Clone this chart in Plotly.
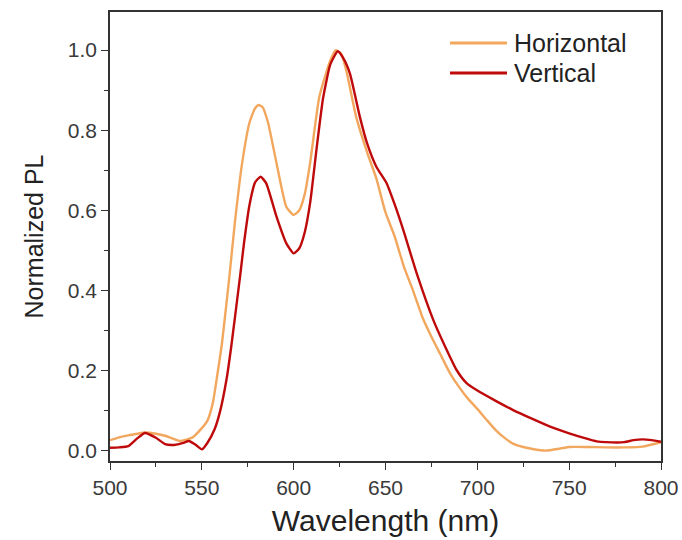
import plotly.graph_objects as go

# Horizontal polarization PL
h_wl = [500, 505, 510, 515, 519, 525, 530, 538, 545, 550, 553, 556, 558, 561, 565, 568, 572, 576, 579, 581, 583, 586, 590.7, 596, 600, 603, 606, 609, 614, 620, 623, 626, 629, 634, 640, 645, 650, 655, 660, 665, 670, 675, 680, 685, 690, 695, 700, 705, 710, 715, 720, 725, 730, 737, 745, 750, 760, 770, 780, 790, 800]
h_pl = [0.027, 0.034, 0.039, 0.043, 0.046, 0.043, 0.038, 0.025, 0.034, 0.057, 0.075, 0.12, 0.177, 0.27, 0.435, 0.57, 0.72, 0.82, 0.855, 0.863, 0.858, 0.82, 0.717, 0.609, 0.589, 0.60, 0.64, 0.72, 0.884, 0.975, 1.0, 0.99, 0.942, 0.834, 0.745, 0.68, 0.595, 0.535, 0.46, 0.40, 0.335, 0.285, 0.24, 0.195, 0.16, 0.13, 0.105, 0.078, 0.052, 0.032, 0.017, 0.01, 0.005, 0.001, 0.006, 0.01, 0.01, 0.009, 0.009, 0.011, 0.022]

# Vertical polarization PL
v_wl = [500, 505, 510, 515, 519, 525, 530, 535, 540, 543, 547, 550, 553, 557, 560, 563.5, 566, 570.8, 573, 576, 579, 582, 585, 590.7, 596, 600, 603, 606, 609, 612.5, 616, 620, 624, 627, 630.6, 636, 640, 645, 650.6, 655, 659.7, 667, 676, 682, 688.7, 694, 699.6, 710, 719.5, 730, 740, 750, 760, 765, 770, 780, 785, 790, 795, 800]
v_pl = [0.008, 0.009, 0.012, 0.032, 0.045, 0.033, 0.017, 0.015, 0.02, 0.025, 0.014, 0.004, 0.02, 0.055, 0.10, 0.18, 0.26, 0.435, 0.52, 0.615, 0.67, 0.684, 0.668, 0.584, 0.518, 0.493, 0.505, 0.545, 0.62, 0.755, 0.88, 0.965, 0.997, 0.98, 0.942, 0.834, 0.767, 0.709, 0.668, 0.615, 0.551, 0.443, 0.327, 0.265, 0.202, 0.17, 0.152, 0.125, 0.102, 0.08, 0.06, 0.044, 0.03, 0.024, 0.022, 0.022, 0.027, 0.029, 0.027, 0.023]

series_names = ["Horizontal", "Vertical"]
series_colors = ["#F2A75E", "#BE0A0A"]

FONT = "Liberation Sans, Arial"

fig = go.Figure()
for wl, pl, name, col in zip([h_wl, v_wl], [h_pl, v_pl], series_names, series_colors):
    fig.add_trace(go.Scatter(x=wl, y=pl, mode="lines", name=name, showlegend=False,
                             line=dict(color=col, width=2.4, shape="spline", smoothing=0.5)))

axis_common = dict(showline=True, linecolor="#333333", linewidth=1.5, mirror=True,
                   ticks="outside", ticklen=7, tickwidth=1.2, tickcolor="#333333",
                   showgrid=False, zeroline=False, automargin=False,
                   tickfont=dict(family=FONT, size=21, color="#3a3a3a"))

fig.update_xaxes(range=[500, 800], tick0=500, dtick=50,
                 minor=dict(ticks="outside", ticklen=4, tickwidth=1.2, tickcolor="#333333", dtick=25, tick0=500),
                 title_text="Wavelength (nm)", title_standoff=12,
                 title_font=dict(family=FONT, size=30, color="#222222"), **axis_common)
fig.update_yaxes(range=[-0.025, 1.095], tick0=0, dtick=0.2, tickformat=".1f",
                 minor=dict(ticks="outside", ticklen=4, tickwidth=1.2, tickcolor="#333333", dtick=0.1, tick0=0),
                 title_text="Normalized PL", title_standoff=17,
                 title_font=dict(family=FONT, size=25, color="#222222"), **axis_common)

# legend drawn as line samples + labels in the upper right
PLOT_L, PLOT_W, PLOT_B, PLOT_H, H = 110, 551, 79, 449, 540
for i, (name, col) in enumerate(zip(series_names, series_colors)):
    ypos = 43 + 30 * i
    yp = ((H - ypos) - PLOT_B) / PLOT_H
    fig.add_shape(type="line", xref="paper", yref="paper",
                  x0=(450 - PLOT_L) / PLOT_W, x1=(507 - PLOT_L) / PLOT_W, y0=yp, y1=yp,
                  line=dict(color=col, width=3))
    fig.add_annotation(xref="paper", yref="paper", x=(513 - PLOT_L) / PLOT_W, y=yp,
                       text=name, showarrow=False, xanchor="left", yanchor="middle",
                       borderpad=0, font=dict(family=FONT, size=25, color="#222222"))

fig.update_layout(width=682, height=540, plot_bgcolor="white", paper_bgcolor="white",
                  margin=dict(l=110, r=21, t=12, b=79, autoexpand=False), showlegend=False)

fig.write_html("out.html")
